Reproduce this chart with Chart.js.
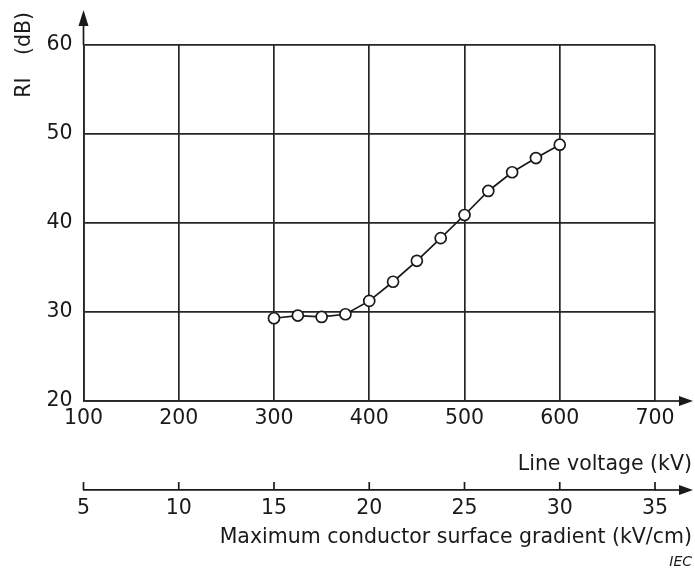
<!DOCTYPE html>
<html><head><meta charset="utf-8">
<script src="https://cdn.jsdelivr.net/npm/chart.js@4/dist/chart.umd.min.js"></script>
<style>html,body{margin:0;padding:0;background:#fff;}#wrap{width:695px;height:572px;position:relative}</style>
</head><body><div id="wrap"><canvas id="c" width="695" height="572"></canvas></div>
<script>
// ---- data ----
const lineVoltage = [300, 325, 350, 375, 400, 425, 450, 475, 500, 525, 550, 575, 600];
const riValues    = [29.3, 29.6, 29.45, 29.75, 31.25, 33.4, 35.75, 38.3, 40.9, 43.6, 45.7, 47.3, 48.8];
const voltageTicks  = [100, 200, 300, 400, 500, 600, 700];
const gradientTicks = [5, 10, 15, 20, 25, 30, 35];
const riTicks       = [20, 30, 40, 50, 60];
const yTitleParts = ['RI', '(dB)'];
const xTitle  = 'Line voltage (kV)';
const x2Title = 'Maximum conductor surface gradient (kV/cm)';
const sourceNote = 'IEC';

const INK = '#1a1a1a';
const GRID = '#262626';
const FONT = 'DejaVu Sans';
const FS = 20.5;

const decor = {
  id: 'decor',
  afterDraw(chart) {
    const ctx = chart.ctx;
    const { left, right, top, bottom } = chart.chartArea;
    const x2 = chart.scales.x2;
    const y2 = x2.top;
    ctx.save();
    ctx.strokeStyle = INK; ctx.fillStyle = INK; ctx.lineWidth = 1.7;
    const line = (a, b, c, d) => { ctx.beginPath(); ctx.moveTo(a, b); ctx.lineTo(c, d); ctx.stroke(); };
    const tri = (pts) => { ctx.beginPath(); ctx.moveTo(pts[0], pts[1]); ctx.lineTo(pts[2], pts[3]); ctx.lineTo(pts[4], pts[5]); ctx.closePath(); ctx.fill(); };
    // y axis arrow
    line(left, top, left, 22);
    tri([left, 10, left - 5, 26, left + 5, 26]);
    // x axis arrow
    line(right, bottom, 682, bottom);
    tri([693, bottom, 679, bottom - 5, 679, bottom + 5]);
    // second axis arrow + ticks
    line(right, y2, 682, y2);
    tri([693, y2, 679, y2 - 5, 679, y2 + 5]);
    x2.ticks.forEach(t => { const px = x2.getPixelForValue(t.value); line(px, y2, px, y2 - 8); });
    // titles
    ctx.font = FS + 'px "' + FONT + '"';
    ctx.textBaseline = 'middle';
    ctx.textAlign = 'right';
    ctx.fillText(xTitle, 692, 465);
    ctx.fillText(x2Title, 692, 538);
    ctx.font = 'italic 14px "' + FONT + '"';
    ctx.fillText(sourceNote, 692, 562);
    // y title rotated
    ctx.save();
    ctx.translate(25, 0);
    ctx.rotate(-Math.PI / 2);
    ctx.font = FS + 'px "' + FONT + '"';
    ctx.textAlign = 'center';
    ctx.fillText(yTitleParts[0], -87.5, 0);
    ctx.fillText(yTitleParts[1], -33.5, 0);
    ctx.restore();
    ctx.restore();
  }
};

const tickFont = { family: FONT, size: FS };

new Chart(document.getElementById('c'), {
  type: 'scatter',
  data: {
    datasets: [{
      data: lineVoltage.map((v, i) => ({ x: v, y: riValues[i] })),
      showLine: true,
      borderColor: INK,
      borderWidth: 1.7,
      pointRadius: 5.5,
      pointBorderWidth: 1.7,
      pointBackgroundColor: '#ffffff',
      pointBorderColor: INK,
      tension: 0
    }]
  },
  options: {
    responsive: false,
    animation: false,
    devicePixelRatio: 1,
    layout: { padding: { left: 0, top: 45, right: 40, bottom: 0 } },
    plugins: { legend: { display: false }, tooltip: { enabled: false } },
    scales: {
      x: {
        type: 'linear', position: 'bottom', weight: 0,
        min: voltageTicks[0], max: voltageTicks[voltageTicks.length - 1],
        afterBuildTicks: s => { s.ticks = voltageTicks.map(v => ({ value: v })); },
        afterFit: s => { s.height = 89; },
        grid: { color: GRID, lineWidth: 1.7, drawTicks: false },
        border: { display: true, color: GRID, width: 1.7 },
        ticks: { font: tickFont, color: INK, padding: 5, maxRotation: 0 }
      },
      x2: {
        type: 'linear', position: 'bottom', weight: 1,
        min: gradientTicks[0], max: gradientTicks[gradientTicks.length - 1],
        afterBuildTicks: s => { s.ticks = gradientTicks.map(v => ({ value: v })); },
        afterFit: s => { s.height = 82; },
        grid: { display: false, drawTicks: false },
        border: { display: true, color: INK, width: 1.7 },
        ticks: { font: tickFont, color: INK, padding: 6, maxRotation: 0 }
      },
      y: {
        type: 'linear', position: 'left',
        min: riTicks[0], max: riTicks[riTicks.length - 1],
        afterBuildTicks: s => { s.ticks = riTicks.map(v => ({ value: v })); },
        afterFit: s => { s.width = 83.5; },
        grid: { color: GRID, lineWidth: 1.7, drawTicks: false },
        border: { display: true, color: GRID, width: 1.7 },
        ticks: { font: tickFont, color: INK, padding: 11 }
      }
    }
  },
  plugins: [decor]
});
</script>
</body></html>
